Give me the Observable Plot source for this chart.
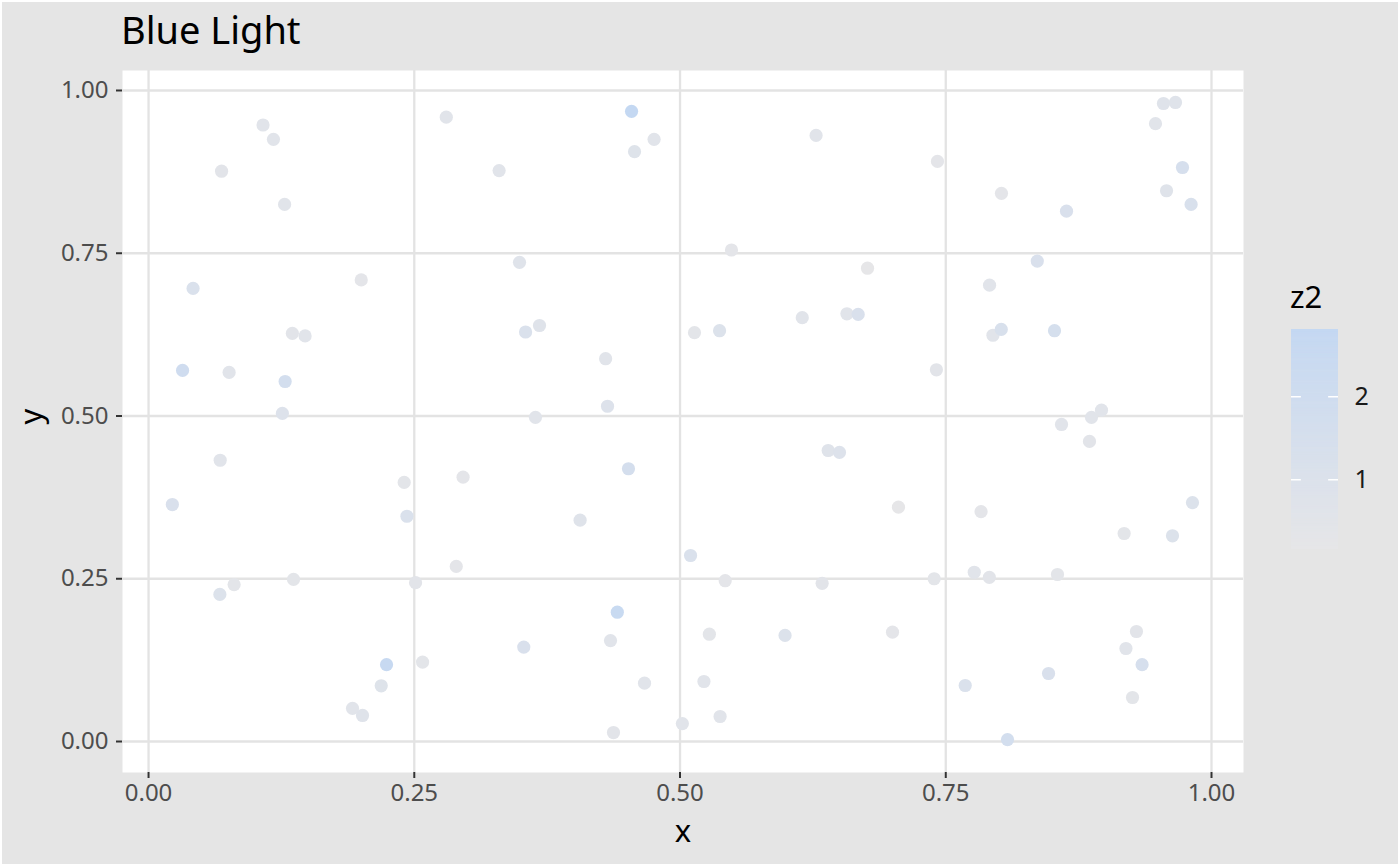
<!DOCTYPE html>
<html><head><meta charset="utf-8">
<script src="https://cdn.jsdelivr.net/npm/d3@7"></script>
<script src="https://cdn.jsdelivr.net/npm/@observablehq/plot@0.6"></script>
<style>
html,body{margin:0;padding:0;background:#fff;}
#wrap{position:relative;width:1400px;height:866px;background:#e5e5e5;box-shadow:inset 0 0 0 2px #fff;overflow:hidden;font-family:"Noto Sans",sans-serif;}
#title{position:absolute;left:121px;top:10px;font-size:38px;line-height:1;color:#000;white-space:nowrap;}
#legtitle{position:absolute;left:1290px;top:281px;font-size:31px;line-height:1;color:#000;}
#main{position:absolute;left:0;top:0;}
#leg{position:absolute;left:1280px;top:320px;}
svg{overflow:visible;}
</style></head>
<body>
<div id="wrap">
  <div id="main"></div>
  <div id="title">Blue Light</div>
  <div id="legtitle">z2</div>
  <div id="leg"></div>
</div>
<script>
// ---- data ----
const xs = [0.0224,0.032,0.0419,0.0687,0.0674,0.0758,0.0671,0.0805,0.1077,0.1175,
0.128,0.1285,0.1259,0.1353,0.1473,0.1364,0.2001,0.1919,0.2013,0.2189,
0.2239,0.2405,0.2431,0.2512,0.2578,0.2801,0.2895,0.2959,0.3298,0.349,
0.3547,0.3678,0.364,0.353,0.406,0.430,0.4318,0.4346,0.4374,0.441,
0.4515,0.4544,0.4572,0.4756,0.4666,0.5022,0.5099,0.5136,0.5225,0.5276,
0.5372,0.5377,0.5425,0.5484,0.5988,0.615,0.628,0.6337,0.6394,0.650,
0.657,0.6676,0.6764,0.6999,0.7055,0.7391,0.7412,0.7422,0.7683,0.7768,
0.7832,0.7912,0.791,0.7944,0.8022,0.8024,0.8081,0.8361,0.8467,0.8523,
0.8551,0.8589,0.8636,0.8852,0.8871,0.8965,0.9178,0.9195,0.9257,0.9294,
0.9347,0.9473,0.9548,0.9661,0.9577,0.9633,0.9727,0.9808,0.9821];
const ys = [0.364,0.570,0.696,0.876,0.432,0.567,0.226,0.241,0.947,0.925,
0.825,0.553,0.504,0.627,0.623,0.249,0.709,0.051,0.040,0.0856,
0.118,0.398,0.346,0.244,0.122,0.959,0.269,0.406,0.877,0.736,
0.629,0.639,0.498,0.145,0.340,0.588,0.515,0.155,0.0138,0.1986,
0.419,0.968,0.906,0.925,0.0896,0.0276,0.2857,0.628,0.0922,0.1648,
0.631,0.0384,0.247,0.755,0.163,0.651,0.931,0.243,0.447,0.444,
0.657,0.656,0.727,0.168,0.360,0.250,0.571,0.891,0.086,0.260,
0.353,0.701,0.252,0.624,0.633,0.842,0.003,0.738,0.1045,0.631,
0.2565,0.487,0.8146,0.461,0.498,0.509,0.3195,0.1429,0.0676,0.169,
0.118,0.949,0.980,0.9816,0.846,0.316,0.8817,0.825,0.367];
const z2 = [1.2,2.0,1.1,0.5,0.6,0.6,1.0,0.4,0.6,0.6,
0.6,1.7,0.9,0.5,0.6,0.4,0.3,0.6,0.7,0.8,
2.6,0.4,1.1,0.5,0.4,0.6,0.3,0.3,0.6,0.7,
1.1,0.7,0.6,1.2,0.7,0.6,0.9,0.6,0.5,2.5,
1.6,2.8,0.8,0.6,0.6,0.6,1.1,0.4,0.6,0.4,
1.0,0.6,0.3,0.3,1.0,0.6,0.6,0.5,0.7,0.9,
0.6,1.2,0.2,0.3,0.2,0.4,0.5,0.3,1.1,0.6,
0.3,0.6,0.5,0.6,1.3,0.3,1.7,1.2,1.2,1.5,
0.4,0.6,1.2,0.5,0.6,0.6,0.4,0.6,0.4,0.5,
1.4,0.6,0.7,0.7,0.7,1.0,1.4,1.3,1.0];
const xTicks = [0, 0.25, 0.5, 0.75, 1];
const yTicks = [0, 0.25, 0.5, 0.75, 1];
const legendTicks = [1, 2];
const zRange = [0.16, 2.81];

const pts = xs.map((x, i) => ({x, y: ys[i], z2: z2[i]}));

const colorScale = {type: "linear", domain: zRange, range: ["#e6e6e8", "#c4d8f2"], interpolate: "lab", clamp: true};
const fmt2 = d3.format(".2f");

const W = 1262, H = 866;
const main = Plot.plot({
  width: W, height: H,
  marginLeft: 122, marginRight: W - 1243, marginTop: 70, marginBottom: H - 772,
  style: {background: "transparent", fontFamily: "Noto Sans", fontSize: "24px", color: "#4d4d4d"},
  x: {domain: [-0.0245, 1.0301]},
  y: {domain: [-0.0476, 1.0307]},
  color: colorScale,
  marks: [
    Plot.frame({fill: "white", stroke: "none"}),
    Plot.gridX(xTicks, {stroke: "#e3e3e3", strokeOpacity: 1, strokeWidth: 2.3}),
    Plot.gridY(yTicks, {stroke: "#e3e3e3", strokeOpacity: 1, strokeWidth: 2.3}),
    Plot.axisX(xTicks, {tickSize: 6, tickPadding: 5, stroke: "#333333", strokeWidth: 2, fill: "#4d4d4d", tickFormat: fmt2, label: null, fontSize: 24}),
    Plot.axisY(yTicks, {tickSize: 6, tickPadding: 8, stroke: "#333333", strokeWidth: 2, fill: "#4d4d4d", tickFormat: fmt2, label: null, fontSize: 24}),
    Plot.dot(pts, {x: "x", y: "y", fill: "z2", r: 6.6, stroke: "none"}),
    Plot.text(["x"], {frameAnchor: "bottom", dy: 69, fontSize: 31, fill: "#000"}),
    Plot.text(["y"], {frameAnchor: "left", dx: -90, dy: 3, rotate: -90, fontSize: 31, fill: "#000"})
  ]
});
document.getElementById("main").appendChild(main);

// colorbar legend
const nSteps = 200;
const stepSize = (zRange[1] - zRange[0]) / nSteps;
const steps = d3.range(nSteps).map(i => ({
  y1: zRange[0] + i * stepSize,
  y2: Math.min(zRange[1], zRange[0] + (i + 1.5) * stepSize),
  v: zRange[0] + (i + 0.5) * stepSize
}));
const leg = Plot.plot({
  width: 110, height: 250,
  marginLeft: 11, marginRight: 52, marginTop: 9, marginBottom: 21,
  style: {background: "transparent", fontFamily: "Noto Sans", fontSize: "25px", color: "#1a1a1a"},
  x: {domain: [0, 1], axis: null},
  y: {domain: zRange, axis: null},
  color: colorScale,
  marks: [
    Plot.rect(steps, {x1: 0, x2: 1, y1: "y1", y2: "y2", fill: "v"}),
    Plot.ruleY(legendTicks, {x1: 0, x2: 0.21, stroke: "white", strokeWidth: 1.5}),
    Plot.ruleY(legendTicks, {x1: 0.79, x2: 1, stroke: "white", strokeWidth: 1.5}),
    Plot.axisY(legendTicks, {anchor: "right", tickSize: 0, tickPadding: 16, fill: "#1a1a1a", label: null, fontSize: 25, tickFormat: d3.format("d")})
  ]
});
document.getElementById("leg").appendChild(leg);
</script>
</body></html>
